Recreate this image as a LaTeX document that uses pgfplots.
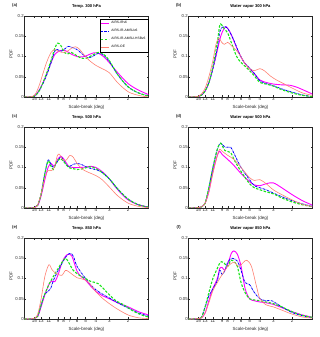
\documentclass[border=0pt]{standalone}
\usepackage{fontspec}
\setmainfont{Liberation Sans}
\usepackage{pgfplots}
\pgfplotsset{compat=1.18}
\definecolor{cMag}{rgb}{1,0,1}
\definecolor{cBlue}{rgb}{0,0,1}
\definecolor{cGreen}{rgb}{0.1,0.9,0.1}
\definecolor{cSal}{rgb}{1,0.5,0.45}
\definecolor{axc}{rgb}{0.15,0.15,0.15}
\pgfplotsset{
 mypanel/.style={
  scale only axis, width=124bp, height=81bp,
  x dir=reverse, xmin=1.29, xmax=18.6, ymin=0, ymax=0.2,
  xtick={15,13,11,9,8,7,6,5,4,3,2},
  xticklabels={15,13,11,9,8,7,6,5,4,3,2},
  minor xtick={},
  ytick={0,0.05,0.1,0.15,0.2},
  yticklabels={0,0.05,0.1,0.15,0.2},
  /pgf/number format/assume math mode=true,
  tick align=inside, major tick length=1.6bp,
  tick style={line width=0.3bp, axc},
  axis line style={line width=0.45bp, axc},
  xticklabel style={font=\fontsize{4.5}{4.8}\selectfont, inner sep=0.6bp, text=axc},
  yticklabel style={font=\fontsize{4.3}{4.5}\selectfont, inner sep=0.6bp, text=axc},
  xlabel={Scale-break (deg)}, ylabel={PDF},
  xlabel style={font=\fontsize{4.5}{5}\selectfont, text=axc, at={(axis description cs:0.5,0)}, anchor=center, yshift=-10bp},
  ylabel style={font=\fontsize{4.5}{5}\selectfont, text=axc, at={(axis description cs:-0.109,0.53)}, anchor=center},
  title style={font=\bfseries\fontsize{4.1}{5}\selectfont, at={(axis description cs:0.5,1)}, anchor=center, yshift=3.8bp},
  every axis plot/.append style={smooth},
 },
}
\begin{document}
\begin{tikzpicture}[x=1bp,y=1bp]
\path (0,0) rectangle (320,337);
% (a)
\begin{axis}[xmode=log, mypanel, name=a, at={(24.5bp,240bp)}, anchor=south west, title={Temp. 300 hPa},
  legend style={font=\fontsize{3.3}{3.8}\selectfont, at={(0.997,0.965)}, anchor=north east, inner sep=0.5bp, row sep=0.2bp},
  legend cell align=left,
  legend image code/.code={\draw[#1] (0bp,0bp) -- (8bp,0bp);}]
\addplot[color=cMag, line width=0.9bp] coordinates {(18.6,0)(17,0)(15.5,0.001)(14.5,0.006)(13.5,0.018)(12.5,0.035)(11.5,0.058)(10.5,0.085)(9.7,0.105)(9,0.112)(8.2,0.116)(7.5,0.113)(6.8,0.106)(6,0.1)(5.3,0.099)(4.7,0.104)(4.2,0.109)(3.8,0.108)(3.4,0.1)(3,0.085)(2.5,0.06)(2,0.033)(1.6,0.017)(1.29,0.006)};
\addlegendentry{AIRS-IRv6}
\addplot[color=cBlue, line width=0.8bp, dash pattern=on 2.2bp off 0.8bp on 0.4bp off 0.8bp] coordinates {(18.6,0)(17,0)(15.5,0.001)(14.5,0.005)(13.5,0.016)(12.5,0.033)(11.5,0.055)(10.5,0.085)(9.8,0.11)(9.3,0.118)(8.6,0.113)(8,0.116)(7.3,0.125)(6.6,0.122)(6,0.117)(5.4,0.107)(4.8,0.097)(4.3,0.1)(3.8,0.108)(3.4,0.104)(3,0.088)(2.5,0.055)(2,0.025)(1.6,0.01)(1.29,0.003)};
\addlegendentry{AIRS-IR-AMSUv6}
\addplot[color=cGreen, line width=1.1bp, dash pattern=on 2.5bp off 1.5bp] coordinates {(18.6,0)(17,0)(15.5,0.001)(14.5,0.005)(13.5,0.016)(12.5,0.035)(11.5,0.06)(10.5,0.09)(9.7,0.12)(9.1,0.133)(8.5,0.127)(7.9,0.11)(7.4,0.106)(6.8,0.11)(6.2,0.104)(5.6,0.097)(5,0.095)(4.4,0.102)(3.8,0.11)(3.4,0.106)(3,0.09)(2.5,0.055)(2,0.025)(1.6,0.01)(1.29,0.002)};
\addlegendentry{AIRS-IR-AMSU-HSBv6\hspace{12bp}}
\addplot[color=cSal, line width=0.6bp] coordinates {(18.6,0)(17,0)(15.5,0.002)(14.5,0.01)(13.5,0.03)(12.5,0.058)(11.5,0.087)(10.5,0.11)(9.7,0.117)(9,0.113)(8.3,0.11)(7.5,0.112)(6.8,0.12)(6.2,0.124)(5.7,0.118)(5.2,0.105)(4.6,0.09)(4,0.078)(3.5,0.07)(3,0.06)(2.5,0.035)(2,0.013)(1.6,0.004)(1.29,0)};
\addlegendentry{AIRS-OE}
\end{axis}
% (b)
\begin{axis}[xmode=log, mypanel, name=b, at={(188.5bp,240bp)}, anchor=south west, title={Water vapor 300 hPa}]
\addplot[color=cMag, line width=0.9bp] coordinates {(18.6,0)(17,0)(15,0.001)(14,0.005)(13,0.015)(12,0.035)(11,0.07)(10,0.115)(9.3,0.15)(8.7,0.168)(8.2,0.173)(7.6,0.16)(7,0.138)(6.3,0.11)(5.6,0.085)(5,0.07)(4.5,0.057)(4,0.042)(3.5,0.036)(3,0.032)(2.5,0.03)(2.1,0.029)(1.8,0.024)(1.5,0.015)(1.29,0.007)};
\addplot[color=cBlue, line width=0.8bp, dash pattern=on 2.2bp off 0.8bp on 0.4bp off 0.8bp] coordinates {(18.6,0)(17,0)(15,0.001)(14,0.005)(13,0.015)(12,0.035)(11,0.07)(10,0.12)(9.5,0.16)(9,0.172)(8.3,0.173)(7.7,0.162)(7,0.14)(6.3,0.11)(5.6,0.085)(5,0.072)(4.5,0.058)(4,0.04)(3.5,0.033)(3,0.028)(2.5,0.02)(2,0.012)(1.6,0.005)(1.29,0.001)};
\addplot[color=cGreen, line width=1.1bp, dash pattern=on 2.5bp off 1.5bp] coordinates {(18.6,0)(17,0)(15,0.001)(14,0.005)(13,0.015)(12,0.035)(11,0.075)(10,0.135)(9.5,0.177)(9.1,0.178)(8.6,0.168)(8,0.158)(7.3,0.13)(6.6,0.1)(6,0.085)(5.3,0.072)(4.6,0.055)(4,0.036)(3.5,0.032)(3,0.027)(2.5,0.018)(2,0.01)(1.6,0.004)(1.29,0.001)};
\addplot[color=cSal, line width=0.6bp] coordinates {(18.6,0)(17,0)(15,0.002)(14,0.008)(13,0.022)(12,0.05)(11,0.09)(10.3,0.13)(9.7,0.145)(9.1,0.135)(8.6,0.13)(8,0.135)(7.4,0.127)(6.8,0.118)(6.2,0.105)(5.6,0.085)(5,0.07)(4.5,0.065)(4,0.07)(3.6,0.064)(3.2,0.052)(2.8,0.042)(2.4,0.033)(2,0.022)(1.6,0.01)(1.29,0.004)};
\end{axis}
% (c)
\begin{axis}[xmode=log, mypanel, name=c, at={(24.5bp,129bp)}, anchor=south west, title={Temp. 500 hPa}]
\addplot[color=cMag, line width=0.9bp] coordinates {(18.6,0)(17,0)(15,0.001)(14,0.006)(13,0.03)(12,0.07)(11.2,0.1)(10.5,0.11)(9.8,0.103)(9.2,0.118)(8.5,0.128)(7.8,0.117)(7.2,0.103)(6.5,0.1)(5.8,0.1)(5,0.101)(4.5,0.103)(4,0.1)(3.5,0.09)(3,0.072)(2.5,0.045)(2,0.02)(1.6,0.008)(1.29,0.002)};
\addplot[color=cBlue, line width=0.8bp, dash pattern=on 2.2bp off 0.8bp on 0.4bp off 0.8bp] coordinates {(18.6,0)(17,0)(15,0.001)(14,0.007)(13,0.035)(12,0.085)(11.2,0.118)(10.6,0.11)(10,0.1)(9.4,0.11)(8.5,0.126)(7.8,0.112)(7.2,0.102)(6.5,0.108)(6,0.11)(5.4,0.107)(4.8,0.1)(4.2,0.096)(3.6,0.09)(3,0.072)(2.5,0.047)(2,0.022)(1.6,0.008)(1.29,0.002)};
\addplot[color=cGreen, line width=1.1bp, dash pattern=on 2.5bp off 1.5bp] coordinates {(18.6,0)(17,0)(15,0.001)(14,0.007)(13,0.035)(12,0.085)(11.2,0.116)(10.6,0.105)(10,0.095)(9.4,0.112)(8.6,0.122)(7.9,0.113)(7.2,0.1)(6.5,0.097)(6,0.095)(5.3,0.097)(4.6,0.102)(4.2,0.1)(3.6,0.09)(3,0.072)(2.5,0.047)(2,0.022)(1.6,0.008)(1.29,0.002)};
\addplot[color=cSal, line width=0.6bp] coordinates {(18.6,0)(17,0)(15,0.001)(14,0.008)(13,0.035)(12,0.075)(11.2,0.093)(10.5,0.092)(9.8,0.1)(9.2,0.128)(8.8,0.133)(8.2,0.12)(7.6,0.118)(7,0.13)(6.5,0.125)(6,0.11)(5.3,0.095)(4.6,0.087)(4,0.08)(3.5,0.07)(3,0.052)(2.5,0.03)(2,0.012)(1.6,0.004)(1.29,0.001)};
\end{axis}
% (d)
\begin{axis}[xmode=log, mypanel, name=d, at={(188.5bp,129bp)}, anchor=south west, title={Water vapor 500 hPa}]
\addplot[color=cMag, line width=0.9bp] coordinates {(18.6,0)(17,0)(15,0.001)(14,0.003)(13,0.012)(12,0.04)(11,0.09)(10,0.13)(9.5,0.14)(9,0.132)(8,0.12)(7,0.105)(6,0.085)(5,0.065)(4.5,0.057)(4,0.055)(3.5,0.06)(3,0.062)(2.5,0.05)(2,0.033)(1.6,0.018)(1.29,0.007)};
\addplot[color=cBlue, line width=0.8bp, dash pattern=on 2.2bp off 0.8bp on 0.4bp off 0.8bp] coordinates {(18.6,0)(17,0)(15,0.001)(14,0.003)(13,0.012)(12,0.05)(11,0.1)(10,0.145)(9.3,0.16)(8.5,0.15)(7.5,0.15)(7,0.135)(6,0.1)(5,0.07)(4.5,0.055)(4,0.05)(3.5,0.045)(3,0.037)(2.5,0.028)(2,0.018)(1.6,0.01)(1.29,0.004)};
\addplot[color=cGreen, line width=1.1bp, dash pattern=on 2.5bp off 1.5bp] coordinates {(18.6,0)(17,0)(15,0.001)(14,0.003)(13,0.012)(12,0.05)(11,0.1)(10,0.145)(9.3,0.16)(8.5,0.142)(7.5,0.137)(7,0.12)(6,0.09)(5,0.06)(4.5,0.05)(4,0.045)(3.5,0.04)(3,0.035)(2.5,0.025)(2,0.015)(1.6,0.008)(1.29,0.003)};
\addplot[color=cSal, line width=0.6bp] coordinates {(18.6,0)(17,0)(15,0.001)(14,0.003)(13,0.012)(12,0.04)(11,0.085)(10,0.13)(9.5,0.145)(9,0.14)(8,0.13)(7,0.12)(6,0.1)(5,0.075)(4.5,0.068)(4,0.07)(3.5,0.06)(3,0.045)(2.5,0.033)(2,0.02)(1.6,0.009)(1.29,0.003)};
\end{axis}
% (e)
\begin{axis}[xmode=log, mypanel, name=e, at={(24.5bp,18bp)}, anchor=south west, title={Temp. 850 hPa}]
\addplot[color=cMag, line width=0.9bp] coordinates {(18.6,0)(17,0)(15,0.001)(14,0.006)(13,0.03)(12,0.06)(11,0.085)(10.4,0.094)(9.7,0.092)(9,0.11)(8.3,0.14)(7.7,0.155)(7.2,0.16)(6.7,0.155)(6,0.118)(5.5,0.105)(5,0.096)(4.5,0.082)(4,0.068)(3.5,0.058)(3,0.05)(2.5,0.04)(2,0.03)(1.6,0.018)(1.29,0.01)};
\addplot[color=cBlue, line width=0.8bp, dash pattern=on 2.2bp off 0.8bp on 0.4bp off 0.8bp] coordinates {(18.6,0)(17,0)(15,0.001)(14,0.007)(13,0.035)(12,0.062)(11.2,0.068)(10.6,0.075)(10,0.095)(9,0.12)(8,0.145)(7.4,0.158)(6.9,0.162)(6.5,0.155)(6,0.13)(5,0.1)(4.5,0.085)(4,0.072)(3.5,0.062)(3,0.052)(2.5,0.04)(2,0.027)(1.6,0.015)(1.29,0.007)};
\addplot[color=cGreen, line width=1.1bp, dash pattern=on 2.5bp off 1.5bp] coordinates {(18.6,0)(17,0)(15,0.001)(14,0.007)(13,0.035)(12,0.062)(11,0.085)(10,0.105)(9,0.125)(8.3,0.14)(7.7,0.15)(7.2,0.14)(6.5,0.12)(5.5,0.105)(5,0.1)(4.5,0.093)(4.2,0.091)(3.8,0.087)(3.4,0.075)(3,0.06)(2.6,0.045)(2.2,0.035)(1.8,0.02)(1.5,0.01)(1.29,0.005)};
\addplot[color=cSal, line width=0.6bp] coordinates {(18.6,0)(17,0)(15,0.002)(14,0.012)(13,0.05)(12,0.105)(11,0.134)(10.3,0.122)(9.6,0.114)(9,0.11)(8.3,0.108)(7.7,0.12)(7.2,0.117)(6.5,0.108)(6,0.102)(5,0.096)(4.5,0.085)(4,0.067)(3.5,0.052)(3,0.038)(2.5,0.024)(2,0.01)(1.6,0.003)(1.29,0.001)};
\end{axis}
% (f)
\begin{axis}[xmode=log, mypanel, name=f, at={(188.5bp,18bp)}, anchor=south west, title={Water vapor 850 hPa}]
\addplot[color=cMag, line width=0.9bp] coordinates {(18.6,0)(17,0)(15,0.001)(14,0.003)(13,0.015)(12,0.045)(11,0.075)(10,0.1)(9.5,0.125)(9,0.127)(8.5,0.12)(8,0.135)(7.4,0.162)(7,0.168)(6.5,0.16)(6,0.13)(5.5,0.075)(5,0.05)(4.5,0.045)(4,0.042)(3.5,0.04)(3,0.036)(2.5,0.028)(2,0.018)(1.6,0.01)(1.29,0.004)};
\addplot[color=cBlue, line width=0.8bp, dash pattern=on 2.2bp off 0.8bp on 0.4bp off 0.8bp] coordinates {(18.6,0)(17,0)(15,0.001)(14,0.005)(13,0.03)(12,0.057)(11,0.075)(10,0.095)(9.5,0.12)(9,0.11)(8.5,0.12)(8,0.14)(7.3,0.15)(6.5,0.143)(6,0.12)(5.5,0.09)(5,0.085)(4.5,0.065)(4,0.05)(3.5,0.045)(3.1,0.045)(2.5,0.03)(2,0.016)(1.6,0.008)(1.29,0.003)};
\addplot[color=cGreen, line width=1.1bp, dash pattern=on 2.5bp off 1.5bp] coordinates {(18.6,0)(17,0)(15,0.001)(14,0.005)(13,0.03)(12,0.065)(11,0.1)(10,0.125)(9.4,0.14)(8.8,0.14)(8,0.13)(7.5,0.145)(7,0.142)(6.5,0.13)(6,0.09)(5.5,0.065)(5,0.05)(4.5,0.047)(4,0.045)(3.5,0.042)(3,0.038)(2.5,0.03)(2,0.018)(1.6,0.009)(1.29,0.004)};
\addplot[color=cSal, line width=0.6bp] coordinates {(18.6,0)(17,0)(15,0.001)(14,0.003)(13,0.015)(12,0.04)(11,0.07)(10,0.09)(9,0.11)(8,0.13)(7,0.14)(6.3,0.13)(5.7,0.14)(5.3,0.145)(4.8,0.13)(4.3,0.08)(4,0.05)(3.5,0.035)(3,0.03)(2.5,0.022)(2,0.012)(1.6,0.005)(1.29,0.002)};
\end{axis}
\foreach \n/\l in {a/(a),b/(b),c/(c),d/(d),e/(e),f/(f)}{
  \node[font=\bfseries\fontsize{4.2}{5}\selectfont, text=axc, anchor=center] at ([xshift=-9.8bp,yshift=10.5bp]\n.north west) {\l};
}
\end{tikzpicture}
\end{document}
